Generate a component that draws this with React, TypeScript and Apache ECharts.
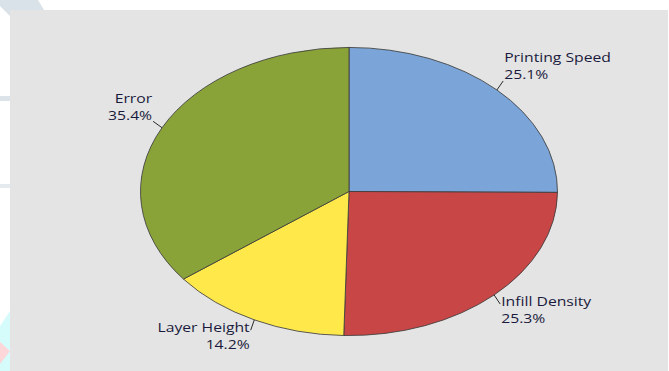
import React, { useEffect, useRef } from "react";
import * as echarts from "echarts";

const categories = ["Printing Speed", "Infill Density", "Layer Height", "Error"];
const values = [25.1, 25.3, 14.2, 35.4];
const percentLabels = ["25.1%", "25.3%", "14.2%", "35.4%"];
const colors = ["#7BA5D8", "#C84646", "#FFE94A", "#8AA338"];

export default function App() {
  const ref = useRef<HTMLDivElement>(null);
  useEffect(() => {
    if (!ref.current) return;
    const chart = echarts.init(ref.current, null, { renderer: "svg" });
    const total = values.reduce((a, b) => a + b, 0);
    const cum: number[] = [];
    let acc = 0;
    values.forEach((v) => {
      cum.push(acc);
      acc += v;
    });
    const CX = 349;
    const CY = 191.5;
    const RX = 208.5;
    const RY = 144;
    const fontStyle = {
      fontFamily: "Open Sans",
      fontSize: 12,
      lineHeight: 17,
      fill: "#1a1a3c",
    };
    const option: any = {
      animation: false,
      backgroundColor: "#ffffff",
      graphic: [
        { type: "polygon", shape: { points: [[0, 0], [38, 0], [44, 10], [10, 10], [10, 16], [0, 6]] }, style: { fill: "#D8E2E8" }, z: 0 },
        { type: "rect", shape: { x: 0, y: 96, width: 10, height: 5 }, style: { fill: "#DCE4EA" }, z: 0 },
        { type: "rect", shape: { x: 0, y: 184, width: 10, height: 4 }, style: { fill: "#E4EAEE" }, z: 0 },
        { type: "polygon", shape: { points: [[10, 311], [10, 371], [0, 371], [0, 326]] }, style: { fill: "#D6FBFB" }, z: 0 },
        { type: "polygon", shape: { points: [[0, 342], [10, 351], [0, 364]] }, style: { fill: "#FDD6DA" }, z: 0 },
        { type: "rect", shape: { x: 10, y: 10, width: 658, height: 361 }, style: { fill: "#E4E4E4" }, z: 1 },
      ],
      series: [
        {
          type: "custom",
          coordinateSystem: "none",
          z: 5,
          data: values.map((v, i) => ({ name: categories[i], value: [v, i] })),
          renderItem: (params: any, api: any) => {
            const i = api.value(1);
            const v = api.value(0);
            const a0 = -Math.PI / 2 + (2 * Math.PI * cum[i]) / total;
            const a1 = a0 + (2 * Math.PI * v) / total;
            const am = (a0 + a1) / 2;
            const ex = CX + RX * Math.cos(am);
            const ey = CY + RY * Math.sin(am);
            const nx = Math.cos(am) / RX;
            const ny = Math.sin(am) / RY;
            const nl = Math.sqrt(nx * nx + ny * ny);
            const dx = nx / nl;
            const dy = ny / nl;
            const L = 11;
            const lx = ex + dx * L;
            const ly = ey + dy * L;
            const right = Math.cos(am) > 0;
            const lower = Math.sin(am) > 0;
            const tx = right ? lx + 1 : lx - 1;
            const ty = lower ? ly - 11 : ly + 2;
            return {
              type: "group",
              children: [
                {
                  type: "sector",
                  x: CX,
                  y: CY,
                  scaleY: RY / RX,
                  shape: { cx: 0, cy: 0, r0: 0, r: RX, startAngle: a0, endAngle: a1, clockwise: true },
                  style: { fill: colors[i], stroke: "#3c3c3c", lineWidth: 1, strokeNoScale: true },
                },
                {
                  type: "line",
                  shape: { x1: ex, y1: ey, x2: lx, y2: ly },
                  style: { stroke: "#2a2a2a", lineWidth: 1 },
                },
                {
                  type: "text",
                  x: tx,
                  y: ty,
                  scaleX: 1.31,
                  style: {
                    ...fontStyle,
                    text: categories[i] + "\n" + percentLabels[i],
                    align: right ? "left" : "right",
                    verticalAlign: lower ? "top" : "bottom",
                  },
                },
              ],
            };
          },
        },
      ],
    };
    chart.setOption(option);
    return () => chart.dispose();
  }, []);
  return (
    <div
      ref={ref}
      style={{ position: "fixed", left: 0, top: 0, width: 669, height: 371 }}
    />
  );
}
